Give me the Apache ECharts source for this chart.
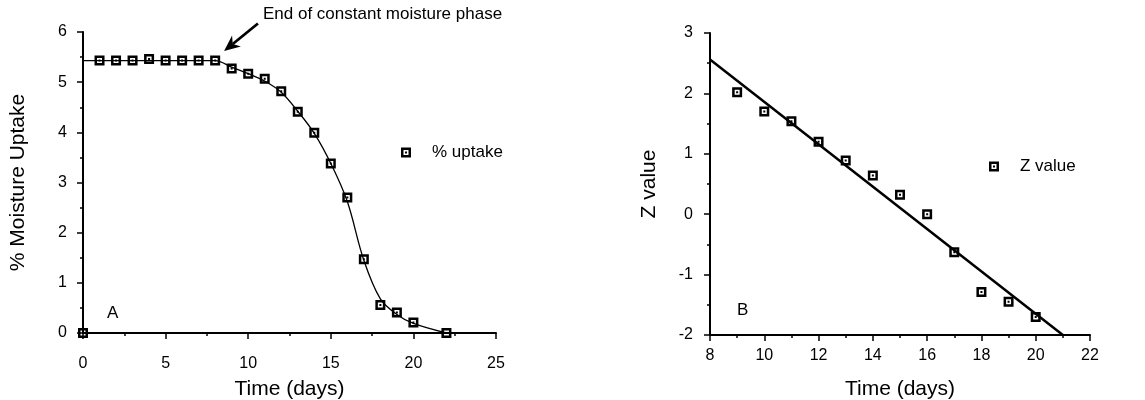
<!DOCTYPE html>
<html>
<head>
<meta charset="utf-8">
<script src="https://cdn.jsdelivr.net/npm/echarts@6/dist/echarts.min.js"></script>
<style>
html,body{margin:0;padding:0;background:#fff;}
#chart{width:1145px;height:400px;}
</style>
</head>
<body>
<div id="chart"></div>
<script>
// ---- Panel A data ----
const daysA = [0, 1, 2, 3, 4, 5, 6, 7, 8, 9, 10, 11, 12, 13, 14, 15, 16, 17, 18, 19, 20, 22];
const uptakeA = [0, 5.43, 5.43, 5.43, 5.46, 5.43, 5.43, 5.43, 5.43, 5.27, 5.17, 5.07, 4.82, 4.41, 3.99, 3.38, 2.70, 1.47, 0.56, 0.41, 0.21, 0];
// fitted curve
const fitDaysA = [0, 8, 9, 10, 11, 12, 13, 14, 15, 16, 17, 18, 19, 20, 22];
const fitUptakeA = [5.43, 5.43, 5.3, 5.17, 5.02, 4.8, 4.42, 3.98, 3.38, 2.62, 1.45, 0.68, 0.37, 0.19, 0];
const xTicksA = [0, 5, 10, 15, 20, 25];
const yTicksA = [0, 1, 2, 3, 4, 5, 6];
// annotation arrow (data coordinates of panel A)
const arrowFrom = [10.59, 6.17];
const arrowTo = [8.54, 5.62];

// ---- Panel B data ----
const daysB = [9, 10, 11, 12, 13, 14, 15, 16, 17, 18, 19, 20];
const zValueB = [2.02, 1.70, 1.54, 1.20, 0.89, 0.64, 0.32, 0.0, -0.63, -1.29, -1.45, -1.70];
const fitDaysB = [8, 21];
const fitZB = [2.56, -2.0];
const xTicksB = [8, 10, 12, 14, 16, 18, 20, 22];
const yTicksB = [-2, -1, 0, 1, 2, 3];

const FONT = '"Liberation Sans", Arial, Helvetica, sans-serif';
const marker = 'path://M0,0H10V10H0Z M2.5,2.5V7.5H7.5V2.5Z M4,4H6V6H4Z';

const zip = (a, b) => a.map((v, i) => [v, b[i]]);

const axisCommon = {
  type: 'value',
  splitLine: { show: false },
  axisLine: { show: true, onZero: false, lineStyle: { color: '#000', width: 2 } },
  axisTick: { show: true, inside: false, length: 6, lineStyle: { color: '#000', width: 1.5 } },
  minorTick: { show: true, splitNumber: 2, length: 3, lineStyle: { color: '#000', width: 1.5 } },
  axisLabel: { color: '#000', fontFamily: FONT, fontSize: 16 },
  nameTextStyle: { color: '#000', fontFamily: FONT, fontSize: 21 },
  nameLocation: 'middle'
};

const textGraphics = [
  { id: 'note', type: 'text', left: 263, top: 6,
    style: { text: 'End of constant moisture phase', fill: '#000', font: '17px ' + FONT } },
  { id: 'labA', type: 'text', left: 107, top: 305,
    style: { text: 'A', fill: '#000', font: '17px ' + FONT } },
  { id: 'labB', type: 'text', left: 737, top: 302,
    style: { text: 'B', fill: '#000', font: '17px ' + FONT } }
];

const chart = echarts.init(document.getElementById('chart'), null, { renderer: 'canvas' });
chart.setOption({
  backgroundColor: '#fff',
  animation: false,
  grid: [
    { left: 83, top: 32, width: 413, height: 301, containLabel: false, outerBoundsMode: 'none' },
    { left: 710, top: 33, width: 380, height: 302, containLabel: false, outerBoundsMode: 'none' }
  ],
  xAxis: [
    Object.assign({}, axisCommon, {
      gridIndex: 0, min: xTicksA[0], max: xTicksA[xTicksA.length - 1], interval: 5,
      name: 'Time (days)', nameGap: 46,
      axisLabel: Object.assign({}, axisCommon.axisLabel, { margin: 23 })
    }),
    Object.assign({}, axisCommon, {
      gridIndex: 1, min: xTicksB[0], max: xTicksB[xTicksB.length - 1], interval: 2,
      name: 'Time (days)', nameGap: 44,
      axisLabel: Object.assign({}, axisCommon.axisLabel, { margin: 13 })
    })
  ],
  yAxis: [
    Object.assign({}, axisCommon, {
      gridIndex: 0, min: yTicksA[0], max: yTicksA[yTicksA.length - 1], interval: 1,
      name: '% Moisture Uptake', nameGap: 54, nameRotate: 90,
      axisLabel: Object.assign({}, axisCommon.axisLabel, { margin: 16 })
    }),
    Object.assign({}, axisCommon, {
      gridIndex: 1, min: yTicksB[0], max: yTicksB[yTicksB.length - 1], interval: 1,
      name: 'Z value', nameGap: 50, nameRotate: 90,
      axisLabel: Object.assign({}, axisCommon.axisLabel, { margin: 17 })
    })
  ],
  legend: [
    {
      left: 401, top: 144, padding: 0, itemWidth: 42, itemHeight: 10,
      data: [{ name: '% uptake', icon: marker }],
      textStyle: { color: '#000', fontFamily: FONT, fontSize: 17 },
      itemStyle: { color: '#000' }
    },
    {
      left: 989, top: 158, padding: 0, itemWidth: 42, itemHeight: 10,
      data: [{ name: 'Z value', icon: marker }],
      textStyle: { color: '#000', fontFamily: FONT, fontSize: 17 },
      itemStyle: { color: '#000' }
    }
  ],
  series: [
    {
      name: 'fit A', type: 'line', xAxisIndex: 0, yAxisIndex: 0,
      data: zip(fitDaysA, fitUptakeA), smooth: 0.35, showSymbol: false, symbol: 'none',
      lineStyle: { color: '#000', width: 1.3 }, z: 2, silent: true
    },
    {
      name: '% uptake', type: 'scatter', xAxisIndex: 0, yAxisIndex: 0,
      data: zip(daysA, uptakeA), symbol: marker, symbolSize: 10, clip: false,
      itemStyle: { color: '#000', opacity: 1 }, z: 5
    },
    {
      name: 'fit B', type: 'line', xAxisIndex: 1, yAxisIndex: 1,
      data: zip(fitDaysB, fitZB), showSymbol: false, symbol: 'none',
      lineStyle: { color: '#000', width: 2.5 }, z: 2, silent: true
    },
    {
      name: 'Z value', type: 'scatter', xAxisIndex: 1, yAxisIndex: 1,
      data: zip(daysB, zValueB), symbol: marker, symbolSize: 10, clip: false,
      itemStyle: { color: '#000', opacity: 1 }, z: 5
    }
  ],
  graphic: textGraphics
});

// Arrow annotation placed through panel A's own scales
const p1 = chart.convertToPixel({ gridIndex: 0 }, arrowFrom);
const p2 = chart.convertToPixel({ gridIndex: 0 }, arrowTo);
const dx = p2[0] - p1[0], dy = p2[1] - p1[1];
const len = Math.sqrt(dx * dx + dy * dy);
const ux = dx / len, uy = dy / len, nx = -uy, ny = ux;
const L = 16, W = 7;
const bx = p2[0] - ux * L, by = p2[1] - uy * L;
const notch = [p2[0] - ux * L * 0.7, p2[1] - uy * L * 0.7];
chart.setOption({
  graphic: textGraphics.concat([
    { id: 'arrowLine', type: 'line', z: 10,
      shape: { x1: p1[0], y1: p1[1], x2: notch[0], y2: notch[1] },
      style: { stroke: '#000', lineWidth: 2.8 } },
    { id: 'arrowHead', type: 'polygon', z: 10,
      shape: { points: [p2, [bx + nx * W, by + ny * W], notch, [bx - nx * W, by - ny * W]] },
      style: { fill: '#000' } }
  ])
});
</script>
</body>
</html>
